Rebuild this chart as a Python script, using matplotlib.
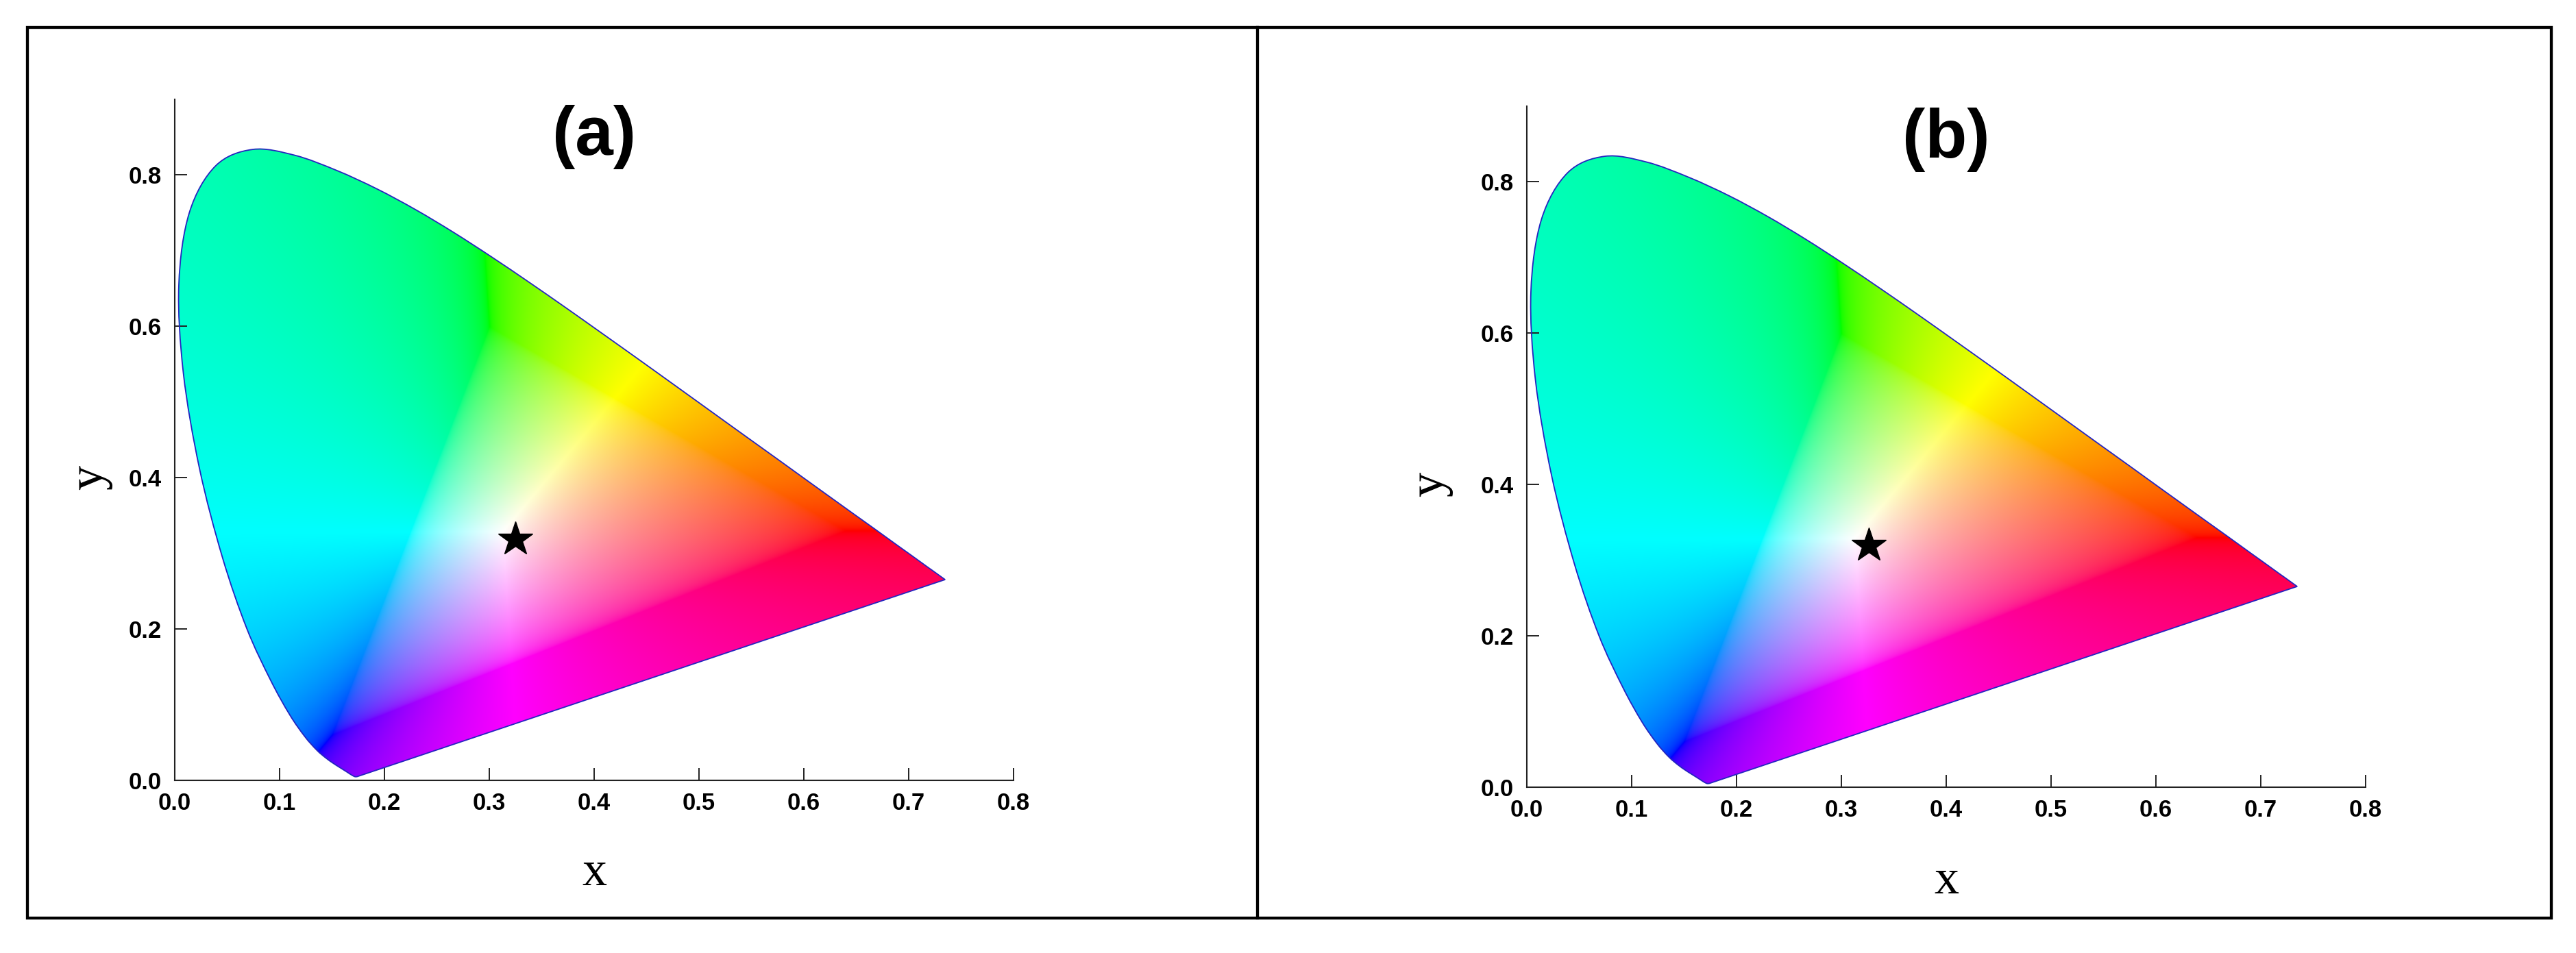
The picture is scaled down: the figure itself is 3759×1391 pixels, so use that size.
import numpy as np
import matplotlib
matplotlib.use('Agg')
import matplotlib.pyplot as plt
from matplotlib.patches import PathPatch, Rectangle
from matplotlib.path import Path
from matplotlib.lines import Line2D

# ---------------- data ----------------
# CIE 1931 2-degree spectral locus chromaticity coordinates (380-700 nm, 5 nm)
wavelengths = list(range(380, 705, 5))
locus_x = [0.1741, 0.1740, 0.1738, 0.1736, 0.1733, 0.1730, 0.1726, 0.1721, 0.1714, 0.1703,
           0.1689, 0.1669, 0.1644, 0.1611, 0.1566, 0.1510, 0.1440, 0.1355, 0.1241, 0.1096,
           0.0913, 0.0687, 0.0454, 0.0235, 0.0082, 0.0039, 0.0139, 0.0389, 0.0743, 0.1142,
           0.1547, 0.1929, 0.2296, 0.2658, 0.3016, 0.3373, 0.3731, 0.4087, 0.4441, 0.4788,
           0.5125, 0.5448, 0.5752, 0.6029, 0.6270, 0.6482, 0.6658, 0.6801, 0.6915, 0.7006,
           0.7079, 0.7140, 0.7190, 0.7230, 0.7260, 0.7283, 0.7300, 0.7311, 0.7320, 0.7327,
           0.7334, 0.7340, 0.7344, 0.7346, 0.7347]
locus_y = [0.0050, 0.0050, 0.0049, 0.0049, 0.0048, 0.0048, 0.0048, 0.0048, 0.0051, 0.0058,
           0.0069, 0.0086, 0.0109, 0.0138, 0.0177, 0.0227, 0.0297, 0.0399, 0.0578, 0.0868,
           0.1327, 0.2007, 0.2950, 0.4127, 0.5384, 0.6548, 0.7502, 0.8120, 0.8338, 0.8262,
           0.8059, 0.7816, 0.7543, 0.7243, 0.6923, 0.6589, 0.6245, 0.5896, 0.5547, 0.5202,
           0.4866, 0.4544, 0.4242, 0.3965, 0.3725, 0.3514, 0.3340, 0.3197, 0.3083, 0.2993,
           0.2920, 0.2859, 0.2809, 0.2770, 0.2740, 0.2717, 0.2700, 0.2689, 0.2680, 0.2673,
           0.2666, 0.2660, 0.2656, 0.2654, 0.2653]

# measured colour points (one per panel)
star_x = [0.325, 0.326]
star_y = [0.319, 0.320]
panel_labels = ['(a)', '(b)']

x_ticks = [0.0, 0.1, 0.2, 0.3, 0.4, 0.5, 0.6, 0.7, 0.8]
y_ticks = [0.0, 0.2, 0.4, 0.6, 0.8]

# XYZ -> linear sRGB matrix (for colouring the diagram)
M_XYZ_RGB = np.array([[3.2406, -1.5372, -0.4986],
                      [-0.9689, 1.8758, 0.0415],
                      [0.0557, -0.2040, 1.0570]])


def locus_path():
    """Smooth closed path through the spectral locus (Catmull-Rom as cubic Bezier)."""
    P = np.column_stack([locus_x, locus_y])
    n = len(P)
    verts = [P[0]]
    codes = [Path.MOVETO]
    for i in range(n - 1):
        p0 = P[max(i - 1, 0)]
        p1 = P[i]
        p2 = P[i + 1]
        p3 = P[min(i + 2, n - 1)]
        c1 = p1 + (p2 - p0) / 6.0
        c2 = p2 - (p3 - p1) / 6.0
        verts += [c1, c2, p2]
        codes += [Path.CURVE4] * 3
    verts += [P[0], P[0]]
    codes += [Path.LINETO, Path.CLOSEPOLY]
    return Path(np.array(verts), codes)


def chroma_image():
    gx = np.linspace(0.0, 0.8, 1400)
    gy = np.linspace(0.0005, 0.9, 1300)
    X, Y = np.meshgrid(gx, gy)
    XYZ = np.stack([X / Y, np.ones_like(X), (1 - X - Y) / Y], axis=-1)
    rgb = XYZ @ M_XYZ_RGB.T
    mn = rgb.min(axis=-1, keepdims=True)
    rgb = rgb - np.minimum(mn, 0)
    rgb = rgb / np.maximum(rgb.max(axis=-1, keepdims=True), 1e-9)
    rgb = np.where(rgb <= 0.0031308, 12.92 * rgb, 1.055 * np.power(np.clip(rgb, 0, None), 1 / 2.4) - 0.055)
    return np.clip(rgb, 0, 1)


fill_img = chroma_image()

# ---------------- figure ----------------
W, H = 3759, 1391
fig = plt.figure(figsize=(W / 100, H / 100), dpi=100)
fig.patch.set_facecolor('white')

axes_px = [(255, 1139), (2228, 1149)]  # (x of y-axis, y of x-axis) in pixels from top
ax_w, ax_h = 1224, 994
title_pos = [(0.40, 0.850), (0.40, 0.856)]
xlab_off = [136, 138]
ylab_off = [123, 140]

outline_col = '#2525c0'
lpath = locus_path()

for p in range(2):
    x0, yb = axes_px[p]
    ax = fig.add_axes([x0 / W, (H - yb) / H, ax_w / W, ax_h / H])
    ax.set_xlim(0, 0.8)
    ax.set_ylim(0, 0.9)
    ax.set_facecolor('none')
    clip = PathPatch(lpath, transform=ax.transData, facecolor='none', edgecolor='none')
    ax.add_patch(clip)
    im = ax.imshow(fill_img, extent=(0, 0.8, 0, 0.9), origin='lower', aspect='auto',
                   interpolation='bilinear', zorder=1)
    im.set_clip_path(clip)
    ax.add_patch(PathPatch(lpath, transform=ax.transData, facecolor='none',
                           edgecolor=outline_col, lw=1.3, zorder=2))
    ax.plot([star_x[p]], [star_y[p]], marker='*', color='black', ms=38, ls='none', zorder=3)

    for s in ['top', 'right']:
        ax.spines[s].set_visible(False)
    for s in ['left', 'bottom']:
        ax.spines[s].set_linewidth(1.5)
        ax.spines[s].set_color('#222222')
    ax.set_xticks(x_ticks)
    ax.set_yticks(y_ticks)
    ax.set_xticklabels([f'{v:.1f}' for v in x_ticks])
    ax.set_yticklabels([f'{v:.1f}' for v in y_ticks])
    ax.tick_params(direction='in', length=13, width=1.4, colors='#222222')
    ax.tick_params(axis='x', pad=12)
    ax.tick_params(axis='y', pad=14)
    for lab in ax.get_xticklabels() + ax.get_yticklabels():
        lab.set_fontfamily('Liberation Sans')
        lab.set_fontweight('bold')
        lab.set_fontsize(25)
        lab.set_color('black')

    ax.text(title_pos[p][0], title_pos[p][1], panel_labels[p], ha='center', va='center',
            fontsize=72, fontweight='bold', family='Liberation Sans', zorder=4)
    ax.text(0.5, -xlab_off[p] / ax_h, 'x', transform=ax.transAxes, ha='center', va='center',
            fontsize=52, family='Liberation Serif')
    ax.text(-ylab_off[p] / ax_w, 0.40 / 0.9, 'y', transform=ax.transAxes, ha='center', va='center',
            fontsize=52, family='Liberation Serif', rotation=90)

# outer frame and divider
fig.add_artist(Rectangle((40 / W, (H - 1340) / H), (3723 - 40) / W, (1340 - 40) / H,
                         transform=fig.transFigure, fill=False, lw=3.1, ec='black'))
fig.add_artist(Line2D([1834.5 / W, 1834.5 / W], [(H - 1340) / H, (H - 40) / H],
                      transform=fig.transFigure, color='black', lw=3.1))

fig.savefig('out.png', dpi=100, facecolor='white')
